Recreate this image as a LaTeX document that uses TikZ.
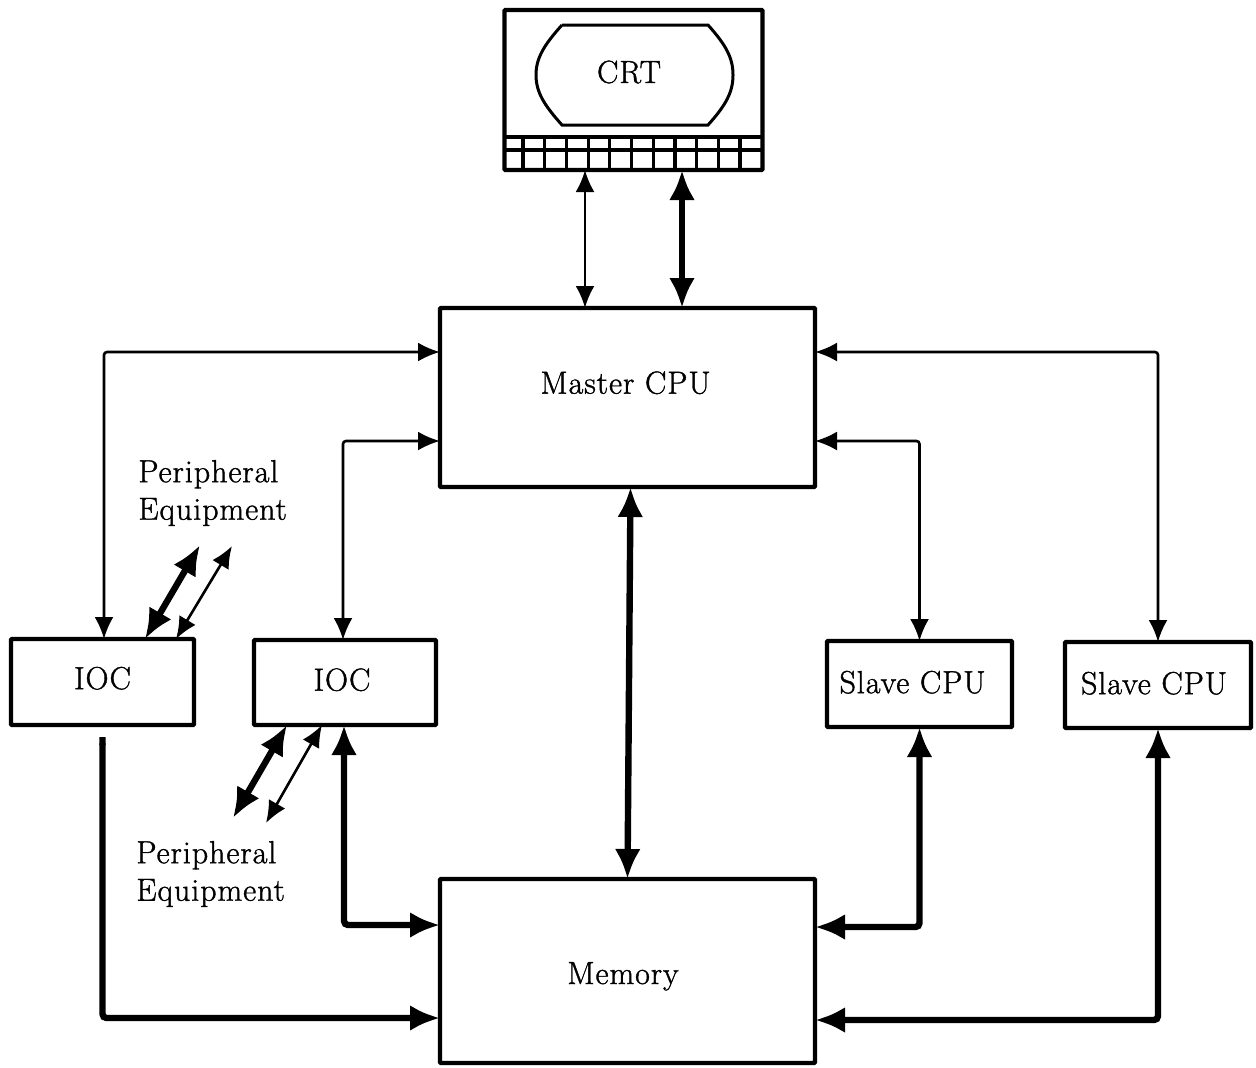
\documentclass[tikz,border=0pt]{standalone}
\usepackage{fontspec}
\setmainfont{Latin Modern Roman}[LetterSpace=3,FakeBold=1.2]
\usetikzlibrary{arrows.meta}
\tikzset{
    box/.style={draw, line width=2.2pt, rounded corners=0.5pt, inner sep=0pt, outer sep=0pt, font=\fontsize{16}{18}\selectfont},
    caption/.style={anchor=west, align=left, inner sep=0pt, font=\fontsize{16}{18.75}\selectfont},
    thinlink/.style={line width=1.3pt, rounded corners=1.5pt, {Latex[length=11pt,width=9.5pt]}-{Latex[length=11pt,width=9.5pt]}},
    thicklink/.style={line width=3.2pt, rounded corners=2pt, {Latex[length=15pt,width=13pt]}-{Latex[length=15pt,width=13pt]}}
}

\begin{document}
\begin{tikzpicture}[x=0.5pt, y=-0.5pt]
    \useasboundingbox (0,0) rectangle (1256,1067);
    \node[box, minimum width=129pt, minimum height=80pt] (crt) at (633.5,90) {};
    \node[box, minimum width=187.5pt, minimum height=89.5pt, text depth=15pt] (master) at (627.5,397.5) {Master CPU\hspace*{2pt}};
    \node[box, minimum width=187.5pt, minimum height=92pt, text height=14pt, text depth=1pt] (memory) at (627.5,971) {Memory\hspace*{4.5pt}};
    \node[box, minimum width=91.5pt, minimum height=43pt, text depth=4pt] (ioca) at (102.5,682) {IOC};
    \node[box, minimum width=91pt, minimum height=42.5pt, text depth=3pt] (iocb) at (345,682.5) {IOC\hspace*{3pt}};
    \node[box, minimum width=92.5pt, minimum height=43pt, text depth=2pt] (slavea) at (919.5,684) {Slave CPU\hspace*{7pt}};
    \node[box, minimum width=93pt, minimum height=43pt, text depth=2pt] (slaveb) at (1158,685) {Slave CPU\hspace*{4pt}};
    % screen and keyboard
    \draw[line width=1.5pt] (562,25) -- (708,25) .. controls (726,45) and (733,58) .. (733,75)
        .. controls (733,92) and (726,105) .. (708,125) -- (562,125)
        .. controls (544,105) and (536,92) .. (536,75) .. controls (536,58) and (544,45) .. (562,25);
    \node[inner sep=0pt, font=\fontsize{16}{18}\selectfont] (screen) at (629,72) {CRT};
    \draw[line width=2pt] (crt.west |- 0,137) -- (crt.east |- 0,137);
    \draw[line width=2pt] (crt.west |- 0,150) -- (crt.east |- 0,150);
    \foreach \i in {0,...,10}
        \draw[line width=1.6pt] (523+21.7*\i,137) -- (523+21.7*\i,170);
    \node[caption] (perupper) at (138,493) {Peripheral\\Equipment};
    \node[caption] (perlower) at (136,874) {Peripheral\\Equipment};
    \coordinate (upperthick) at (200,545);
    \coordinate (upperthin) at (232,546);
    \coordinate (lowerthick) at (233,818);
    \coordinate (lowerthin) at (266,823);
    % thin links
    \draw[thinlink] ([xshift=-24.25pt]crt.south) -- ([xshift=-24.25pt]crt.south |- master.north);
    \draw[thinlink] ([xshift=0.75pt]ioca.north) |- ([yshift=22.75pt]master.west);
    \draw[thinlink] ([xshift=-1pt]iocb.north) |- ([yshift=-21.75pt]master.west);
    \draw[thinlink] (slavea.north) |- ([yshift=-21.75pt]master.east);
    \draw[thinlink] (slaveb.north) |- ([yshift=22.75pt]master.east);
    \draw[thinlink] ([xshift=36.75pt]ioca.north) -- (upperthin);
    \draw[thinlink] ([xshift=-11.5pt]iocb.south) -- (lowerthin);
    % thick links
    \draw[thicklink] ([xshift=24.25pt]crt.south) -- ([xshift=24.25pt]crt.south |- master.north);
    \draw[thicklink] ([xshift=1.5pt]master.south) -- ([xshift=0pt]memory.north);
    \draw[thicklink] ([xshift=21.25pt]ioca.north) -- (upperthick);
    \draw[thicklink] ([xshift=-29pt]iocb.south) -- (lowerthick);
    \draw[thicklink] ([xshift=-0.5pt]iocb.south) |- ([yshift=23pt]memory.west);
    \draw[thicklink] (slavea.south) |- ([yshift=22pt]memory.east);
    \draw[thicklink] (slaveb.south) |- ([yshift=-24.5pt]memory.east);
    \draw[thicklink, {Butt Cap}-{Latex[length=15pt,width=13pt]}] ([yshift=-6pt]ioca.south) |- ([yshift=-23.5pt]memory.west);
\end{tikzpicture}
\end{document}
